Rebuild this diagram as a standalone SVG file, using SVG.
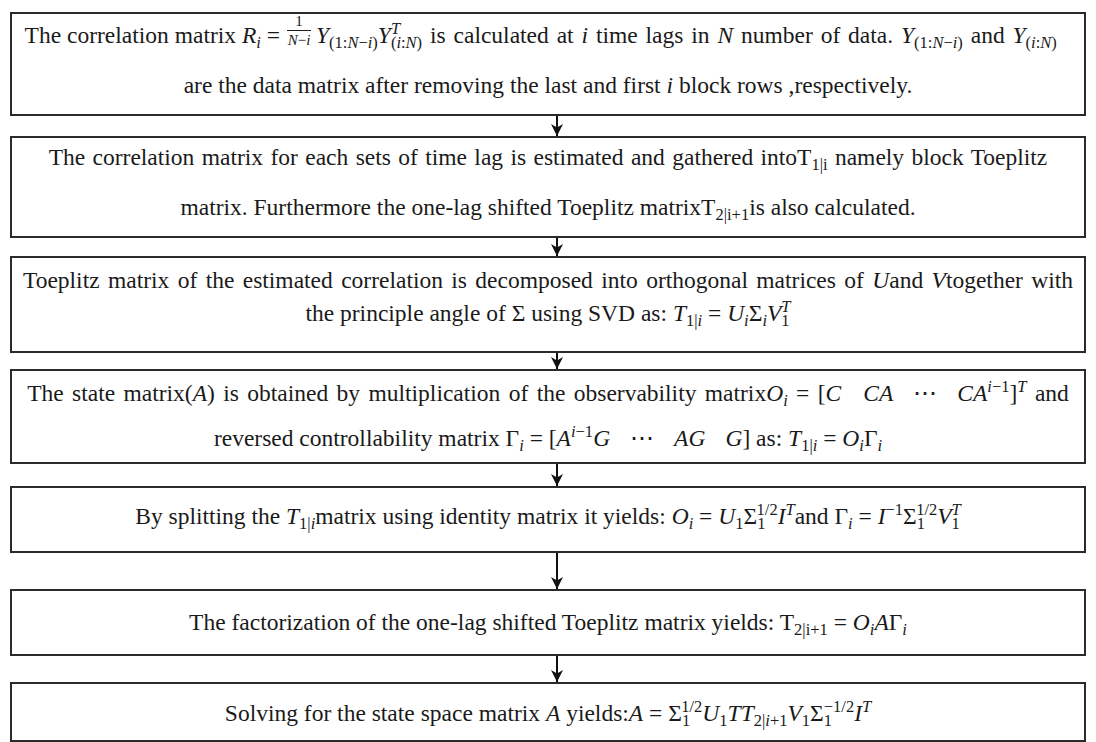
<svg xmlns="http://www.w3.org/2000/svg" width="1096" height="742" viewBox="0 0 1096 742">
<defs>
<style>
.t { font-family: "Liberation Serif", "DejaVu Serif", serif; font-size: 23.5px; fill: #1a1a1a; }
.m { font-style: italic; }
.s { font-size: 16.5px; }
.f { font-size: 15px; }
.w { word-spacing: 2px; }
.box { fill: #fff; stroke: #2b2b2b; stroke-width: 2; }
.arr { stroke: #111; stroke-width: 2; fill: none; marker-end: url(#ah); }
</style>
<marker id="ah" markerUnits="userSpaceOnUse" viewBox="0 0 12 12" refX="12" refY="6" markerWidth="12" markerHeight="12" orient="auto"><path d="M0,0 L12,6 L0,12 L3.5,6 Z" fill="#111"/></marker>
</defs>
<rect width="1096" height="742" fill="#fff"/>
<g id="connectors">
<line class="arr" x1="557" y1="116" x2="557" y2="136"/>
<line class="arr" x1="557" y1="238" x2="557" y2="256"/>
<line class="arr" x1="557" y1="353" x2="557" y2="369"/>
<line class="arr" x1="557" y1="464" x2="557" y2="486"/>
<line class="arr" x1="557" y1="553" x2="557" y2="589"/>
<line class="arr" x1="557" y1="656" x2="557" y2="682"/>
</g>
<g id="step1">
<rect class="box" x="11" y="13" width="1074" height="102"/>
<text class="t" x="280" y="43" text-anchor="end">The correlation matrix <tspan class="m">R</tspan><tspan class="s m" dy="5">i</tspan><tspan dy="-5"> =</tspan></text>
<text class="t f" x="299" y="26" text-anchor="middle">1</text>
<line x1="287" y1="30.5" x2="311" y2="30.5" stroke="#1a1a1a" stroke-width="1"/>
<text class="t f" x="299" y="45" text-anchor="middle"><tspan class="m">N</tspan>−<tspan class="m">i</tspan></text>
<text class="t w" x="316" y="43"><tspan class="m">Y</tspan><tspan class="s" dy="5">(1:<tspan class="m">N</tspan>−<tspan class="m">i</tspan>)</tspan><tspan class="m" dy="-5">Y</tspan><tspan class="s m" dy="-9">T</tspan><tspan class="s" dx="-9.2" dy="14">(<tspan class="m">i</tspan>:<tspan class="m">N</tspan>)</tspan><tspan dy="-5"> is calculated at </tspan><tspan class="m">i</tspan> time lags in <tspan class="m">N</tspan> number of data. <tspan class="m">Y</tspan><tspan class="s" dy="5">(1:<tspan class="m">N</tspan>−<tspan class="m">i</tspan>)</tspan><tspan dy="-5"> and </tspan><tspan class="m">Y</tspan><tspan class="s" dy="5">(<tspan class="m">i</tspan>:<tspan class="m">N</tspan>)</tspan></text>
<text class="t" x="548" y="93" text-anchor="middle">are the data matrix after removing the last and first <tspan class="m">i</tspan> block rows ,respectively.</text>
</g>
<g id="step2">
<rect class="box" x="11" y="137" width="1074" height="100"/>
<text class="t" x="548" y="165" text-anchor="middle" style="word-spacing:1.5px">The correlation matrix for each sets of time lag is estimated and gathered intoT<tspan class="s" dy="5">1|i</tspan><tspan dy="-5"> namely block Toeplitz</tspan></text>
<text class="t" x="548" y="215" text-anchor="middle">matrix. Furthermore the one-lag shifted Toeplitz matrixT<tspan class="s" dy="5">2|i+1</tspan><tspan dy="-5">is also calculated.</tspan></text>
</g>
<g id="step3">
<rect class="box" x="11" y="257" width="1074" height="95"/>
<text class="t" x="548" y="288" text-anchor="middle" style="word-spacing:2.5px">Toeplitz matrix of the estimated correlation is decomposed into orthogonal matrices of <tspan class="m">U</tspan>and <tspan class="m">V</tspan>together with</text>
<text class="t" x="548" y="321" text-anchor="middle">the principle angle of Σ using SVD as: <tspan class="m">T</tspan><tspan class="s" dy="5">1|<tspan class="m">i</tspan></tspan><tspan dy="-5"> = </tspan><tspan class="m">U</tspan><tspan class="s m" dy="5">i</tspan><tspan dy="-5">Σ</tspan><tspan class="s m" dy="5">i</tspan><tspan class="m" dy="-5">V</tspan><tspan class="s" dy="5">1</tspan><tspan class="s m" dx="-8.25" dy="-14">T</tspan></text>
</g>
<g id="step4">
<rect class="box" x="11" y="370" width="1074" height="93"/>
<text class="t" x="548" y="401" text-anchor="middle" style="word-spacing:2.5px">The state matrix(<tspan class="m">A</tspan>) is obtained by multiplication of the observability matrix<tspan class="m">O</tspan><tspan class="s m" dy="5">i</tspan><tspan dy="-5"> = [</tspan><tspan class="m">C</tspan><tspan class="m" dx="22">CA</tspan><tspan dx="20">⋯</tspan><tspan class="m" dx="20">CA</tspan><tspan class="s" dy="-9"><tspan class="m">i</tspan>−1</tspan><tspan dy="9">]</tspan><tspan class="s m" dy="-9">T</tspan><tspan dy="9"> and</tspan></text>
<text class="t" x="548" y="446" text-anchor="middle">reversed controllability matrix Γ<tspan class="s m" dy="5">i</tspan><tspan dy="-5"> = [</tspan><tspan class="m">A</tspan><tspan class="s" dy="-9"><tspan class="m">i</tspan>−1</tspan><tspan class="m" dy="9">G</tspan><tspan dx="20">⋯</tspan><tspan class="m" dx="20">AG</tspan><tspan class="m" dx="20">G</tspan>] as: <tspan class="m">T</tspan><tspan class="s" dy="5">1|<tspan class="m">i</tspan></tspan><tspan dy="-5"> = </tspan><tspan class="m">O</tspan><tspan class="s m" dy="5">i</tspan><tspan dy="-5">Γ</tspan><tspan class="s m" dy="5">i</tspan></text>
</g>
<g id="step5">
<rect class="box" x="11" y="487" width="1074" height="65"/>
<text class="t" x="548" y="524" text-anchor="middle">By splitting the <tspan class="m">T</tspan><tspan class="s" dy="5">1|<tspan class="m">i</tspan></tspan><tspan dy="-5">matrix using identity matrix it yields: </tspan><tspan class="m">O</tspan><tspan class="s m" dy="5">i</tspan><tspan dy="-5"> = </tspan><tspan class="m">U</tspan><tspan class="s" dy="5">1</tspan><tspan dy="-5">Σ</tspan><tspan class="s" dy="5">1</tspan><tspan class="s" dx="-8.25" dy="-14">1/2</tspan><tspan class="m" dy="9">I</tspan><tspan class="s m" dy="-9">T</tspan><tspan dy="9">and Γ</tspan><tspan class="s m" dy="5">i</tspan><tspan dy="-5"> = </tspan><tspan class="m">I</tspan><tspan class="s" dy="-9">−1</tspan><tspan dy="9">Σ</tspan><tspan class="s" dy="5">1</tspan><tspan class="s" dx="-8.25" dy="-14">1/2</tspan><tspan class="m" dy="9">V</tspan><tspan class="s" dy="5">1</tspan><tspan class="s m" dx="-8.25" dy="-14">T</tspan></text>
</g>
<g id="step6">
<rect class="box" x="11" y="590" width="1074" height="65"/>
<text class="t" x="548" y="630" text-anchor="middle">The factorization of the one-lag shifted Toeplitz matrix yields: T<tspan class="s" dy="5">2|i+1</tspan><tspan dy="-5"> = </tspan><tspan class="m">O</tspan><tspan class="s m" dy="5">i</tspan><tspan class="m" dy="-5">A</tspan>Γ<tspan class="s m" dy="5">i</tspan></text>
</g>
<g id="step7">
<rect class="box" x="11" y="683" width="1074" height="58"/>
<text class="t" x="548" y="721" text-anchor="middle">Solving for the state space matrix <tspan class="m">A</tspan> yields:<tspan class="m">A</tspan> = Σ<tspan class="s" dy="5">1</tspan><tspan class="s" dx="-8.25" dy="-14">1/2</tspan><tspan class="m" dy="9">U</tspan><tspan class="s" dy="5">1</tspan><tspan class="m" dy="-5">TT</tspan><tspan class="s" dy="5">2|<tspan class="m">i</tspan>+1</tspan><tspan class="m" dy="-5">V</tspan><tspan class="s" dy="5">1</tspan><tspan dy="-5">Σ</tspan><tspan class="s" dy="5">1</tspan><tspan class="s" dx="-8.25" dy="-14">−1/2</tspan><tspan class="m" dy="9">I</tspan><tspan class="s m" dy="-9">T</tspan></text>
</g>
</svg>
